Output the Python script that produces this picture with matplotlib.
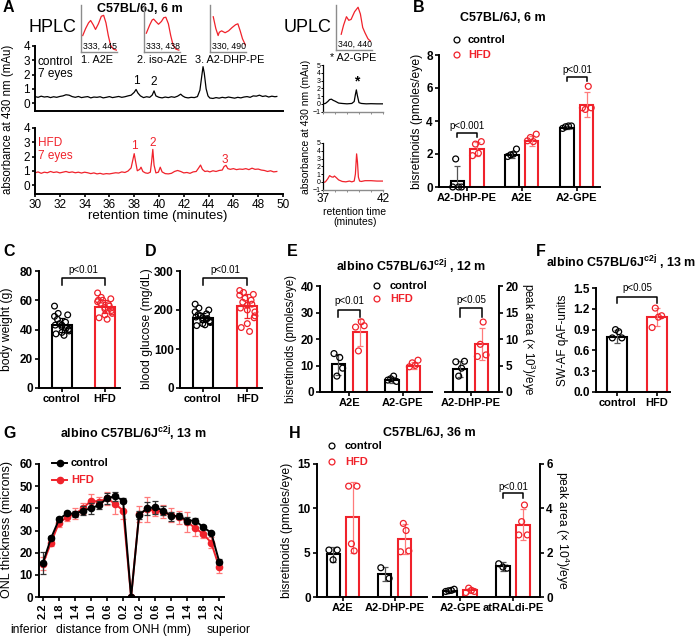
import matplotlib.pyplot as plt
import numpy as np

plt.rcParams['font.family'] = ['Liberation Sans', 'DejaVu Sans']
plt.rcParams['mathtext.fontset'] = 'custom'
plt.rcParams['mathtext.rm'] = 'Liberation Sans'
plt.rcParams['mathtext.bf'] = 'Liberation Sans:bold'
plt.rcParams['mathtext.it'] = 'Liberation Sans:italic'

W, H = 697, 637
RED = '#f0222b'
LRED = '#ff7b7b'
GRAY = '#8c8c8c'

# ---------------- A: chromatograms ----------------
hplc_ctrl_t = [30.0, 30.25, 30.5, 30.75, 31.0, 31.25, 31.5, 31.75, 32.0, 32.25, 32.5, 32.75, 33.0, 33.25,
               33.5, 33.75, 34.0, 34.25, 34.5, 34.75, 35.0, 35.25, 35.5, 35.75, 36.0, 36.25, 36.5, 36.75,
               37.0, 37.25, 37.5, 37.75, 38.0, 38.15, 38.3, 38.5, 38.75, 39.0, 39.25, 39.45, 39.6, 39.75,
               40.0, 40.25, 40.5, 40.75, 41.0, 41.25, 41.5, 41.75, 41.9, 42.1, 42.35, 42.6, 42.85, 43.1,
               43.3, 43.45, 43.55, 43.65, 43.8, 43.95, 44.1, 44.35, 44.6, 44.85, 45.1, 45.35, 45.6, 45.85,
               46.1, 46.35, 46.6, 46.85, 47.1, 47.35, 47.6, 47.85, 48.1, 48.35, 48.6, 48.85, 49.1, 49.35, 49.5]
hplc_ctrl_v = [0.45, 0.40, 0.48, 0.42, 0.45, 0.38, 0.44, 0.40, 0.46, 0.50, 0.58, 0.55, 0.45, 0.40,
               0.46, 0.38, 0.42, 0.45, 0.36, 0.42, 0.40, 0.44, 0.36, 0.40, 0.45, 0.38, 0.42, 0.46,
               0.40, 0.44, 0.50, 0.55, 0.75, 0.95, 0.70, 0.50, 0.38, 0.44, 0.40, 0.55, 0.85, 0.50,
               0.40, 0.36, 0.42, 0.38, 0.44, 0.40, 0.48, 0.62, 0.50, 0.40, 0.36, 0.40, 0.38, 0.45,
               0.90, 1.90, 2.55, 2.10, 1.00, 0.50, 0.35, 0.32, 0.38, 0.34, 0.40, 0.36, 0.42, 0.38,
               0.34, 0.40, 0.36, 0.42, 0.45, 0.40, 0.50, 0.48, 0.55, 0.46, 0.50, 0.42, 0.48, 0.44, 0.46]
hplc_hfd_t = [30.0, 30.25, 30.5, 30.75, 31.0, 31.25, 31.5, 31.75, 32.0, 32.25, 32.5, 32.75, 33.0, 33.25,
              33.5, 33.75, 34.0, 34.25, 34.5, 34.75, 35.0, 35.25, 35.5, 35.75, 36.0, 36.25, 36.5, 36.75,
              37.0, 37.25, 37.5, 37.75, 37.9, 38.0, 38.1, 38.25, 38.45, 38.55, 38.7, 38.9, 39.1, 39.3,
              39.4, 39.5, 39.6, 39.75, 39.95, 40.1, 40.25, 40.5, 40.75, 41.0, 41.25, 41.5, 41.75, 42.0,
              42.25, 42.5, 42.75, 43.0, 43.2, 43.35, 43.5, 43.7, 43.9, 44.1, 44.35, 44.6, 44.85, 45.1,
              45.25, 45.4, 45.55, 45.75, 46.0, 46.25, 46.5, 46.75, 47.0, 47.25, 47.5, 47.75, 48.0, 48.25,
              48.5, 48.75, 49.0, 49.25, 49.5]
hplc_hfd_v = [0.85, 0.92, 0.82, 0.90, 0.86, 0.95, 0.88, 0.92, 0.85, 0.90, 0.95, 0.88, 0.92, 0.86,
              0.90, 0.84, 0.90, 0.86, 0.80, 0.85, 0.78, 0.82, 0.76, 0.80, 0.78, 0.82, 0.86, 0.84,
              0.92, 0.88, 0.98, 1.20, 1.80, 2.20, 1.70, 1.00, 1.10, 1.25, 0.95, 0.85, 0.82, 0.90,
              1.60, 2.50, 1.40, 0.85, 0.90, 1.25, 0.92, 0.80, 0.78, 0.82, 0.95, 1.02, 0.95, 0.85,
              0.88, 0.82, 0.92, 0.95, 1.20, 1.40, 1.10, 0.95, 0.98, 0.92, 1.00, 0.95, 1.02, 1.05,
              1.30, 1.38, 1.15, 1.10, 1.15, 1.08, 1.12, 1.10, 1.15, 1.08, 1.18, 1.10, 1.12, 1.05,
              1.02, 0.95, 1.00, 0.92, 0.95]

uplc_ctrl_t = [37.0, 37.2, 37.4, 37.55, 37.7, 37.85, 38.0, 38.3, 38.6, 39.0, 39.4, 39.6, 39.7, 39.78,
               39.86, 40.0, 40.2, 40.6, 41.0, 41.5, 42.0]
uplc_ctrl_v = [0.0, 0.05, 0.3, 0.55, 0.6, 0.45, 0.35, 0.1, 0.05, 0.0, 0.05, 0.3, 1.2, 1.8,
               1.1, 0.15, 0.05, 0.0, 0.02, 0.0, 0.0]
uplc_hfd_t = [37.0, 37.2, 37.4, 37.55, 37.7, 37.85, 37.95, 38.1, 38.3, 38.6, 38.9, 39.2, 39.4, 39.6,
              39.7, 39.8, 39.87, 39.95, 40.05, 40.2, 40.5, 41.0, 41.5, 42.0]
uplc_hfd_v = [-0.1, 0.0, 0.4, 0.8, 0.65, 0.6, 0.75, 0.55, 0.25, 0.05, 0.0, 0.1, 0.0, 0.1,
              1.0, 3.6, 2.6, 0.6, 0.1, 0.05, 0.15, 0.15, 0.1, 0.1]

spec_a2e_wl = [265, 290, 315, 333, 355, 375, 400, 425, 445, 465, 485, 505, 530, 555]
spec_a2e = [0.35, 0.5, 0.62, 0.67, 0.58, 0.48, 0.6, 0.76, 0.78, 0.62, 0.35, 0.14, 0.06, 0.04]
spec_iso_wl = [270, 300, 320, 333, 355, 375, 400, 420, 438, 460, 480, 500, 525, 550]
spec_iso = [0.4, 0.58, 0.68, 0.7, 0.64, 0.59, 0.65, 0.73, 0.74, 0.6, 0.35, 0.15, 0.06, 0.04]
spec_dhp_wl = [278, 300, 320, 330, 350, 380, 410, 440, 470, 490, 510, 530, 555]
spec_dhp = [0.75, 0.5, 0.35, 0.42, 0.45, 0.41, 0.45, 0.52, 0.58, 0.6, 0.45, 0.28, 0.15]
spec_gpe_wl = [295, 315, 340, 360, 380, 410, 440, 460, 480, 500, 525, 545]
spec_gpe = [0.35, 0.55, 0.74, 0.66, 0.68, 0.85, 0.95, 0.8, 0.5, 0.38, 0.25, 0.2]

# ---------------- B ----------------
b_cats = ['A2-DHP-PE', 'A2E', 'A2-GPE']
b_ctrl_mean = [0.35, 1.95, 3.6]
b_ctrl_sd = [0.95, 0.2, 0.08]
b_hfd_mean = [2.3, 2.8, 5.0]
b_hfd_sd = [0.45, 0.3, 0.75]
b_ctrl_pts = [[0, 1.7, 0, 0], [1.85, 1.95, 2.0, 2.3], [3.55, 3.65, 3.7, 3.7]]
b_hfd_pts = [[1.9, 2.6, 2.05, 2.75], [2.8, 3.0, 2.75, 3.2], [4.8, 4.7, 6.1, 4.8]]

# ---------------- C / D ----------------
cd_cats = ['control', 'HFD']
c_mean = [43, 55.5]
c_sd = [5, 4.5]
c_ctrl_pts = [43, 56, 40, 51, 45, 37, 50, 42, 44, 36, 49, 39, 47, 41, 38, 43, 40]
c_hfd_pts = [55, 65, 52, 62, 57, 48, 61, 54, 60, 47, 59, 51, 58, 56, 50, 60, 53]
d_mean = [180, 210]
d_sd = [12, 30]
d_ctrl_pts = [180, 215, 168, 205, 190, 160, 200, 175, 185, 162, 195, 170, 188, 178, 165, 182, 172]
d_hfd_pts = [212, 250, 195, 245, 225, 155, 240, 200, 230, 145, 238, 185, 220, 215, 165, 205, 180]

# ---------------- E ----------------
e_cats_left = ['A2E', 'A2-GPE']
e_ctrl_mean = [10.5, 4.5]
e_ctrl_sd = [4.0, 1.2]
e_hfd_mean = [22.5, 10.0]
e_hfd_sd = [5.0, 1.5]
e_ctrl_pts = [[14.5, 6, 13, 9], [4.5, 5, 6, 4]]
e_hfd_pts = [[24.5, 15.5, 26.5, 25], [9.5, 11, 10, 12]]
e_cats_right = ['A2-DHP-PE']
e_r_ctrl_mean = [4.3]
e_r_ctrl_sd = [1.5]
e_r_hfd_mean = [9.0]
e_r_hfd_sd = [3.0]
e_r_ctrl_pts = [[5.7, 3.0, 4.5, 5.8]]
e_r_hfd_pts = [[6.7, 9.0, 13.2, 7.0]]

# ---------------- F ----------------
f_mean = [0.8, 1.08]
f_sd = [0.09, 0.13]
f_ctrl_pts = [0.78, 0.9, 0.87, 0.78]
f_hfd_pts = [0.93, 1.21, 1.08, 1.1]

# ---------------- G ----------------
g_dist = [-2.2, -2.0, -1.8, -1.6, -1.4, -1.2, -1.0, -0.8, -0.6, -0.4, -0.2, 0.0,
          0.2, 0.4, 0.6, 0.8, 1.0, 1.2, 1.4, 1.6, 1.8, 2.0, 2.2]
g_ctrl = [15.5, 26.5, 35, 37.8, 37.5, 39, 40, 41.5, 44.5, 45.5, 43.5, 0,
          37, 40, 40.5, 39, 36.5, 36.5, 34.5, 34.5, 31.5, 29, 16]
g_ctrl_sd = [5, 1, 1, 1, 1.5, 2, 2.5, 2, 2.5, 2, 1, 0,
             2, 3, 3, 2, 2, 1.5, 1.5, 1, 1, 0.5, 1]
g_hfd = [15, 24.5, 33.5, 36, 37.5, 40, 43.5, 43, 44.5, 42, 39, 0,
         37.5, 39.5, 39, 38.5, 37, 36, 34, 31, 28.5, 24.5, 13.5]
g_hfd_sd = [3, 1.5, 2, 1.5, 2.5, 2.5, 3, 2, 3, 4.5, 4, 0,
            3.5, 5.5, 2.5, 3, 3, 3, 4.5, 3.5, 2, 2.5, 2.5]
g_ticks = [-2.2, -1.8, -1.4, -1.0, -0.6, -0.2, 0.2, 0.6, 1.0, 1.4, 1.8, 2.2]

# ---------------- H ----------------
h_cats_left = ['A2E', 'A2-DHP-PE']
h_ctrl_mean = [4.8, 2.6]
h_ctrl_sd = [0.8, 0.8]
h_hfd_mean = [9.0, 6.5]
h_hfd_sd = [4.0, 1.7]
h_ctrl_pts = [[5.3, 4.2, 5.3], [3.3, 2.1]]
h_hfd_pts = [[12.5, 6.0, 5.2, 12.5], [5.1, 8.3, 7.5, 5.2]]
h_cats_right = ['A2-GPE', 'atRALdi-PE']
h_r_ctrl_mean = [0.28, 1.38]
h_r_ctrl_sd = [0.05, 0.2]
h_r_hfd_mean = [0.3, 3.25]
h_r_hfd_sd = [0.1, 0.7]
h_r_ctrl_pts = [[0.25, 0.28, 0.3, 0.35], [1.5, 1.35, 1.3]]
h_r_hfd_pts = [[0.2, 0.4, 0.3, 0.25], [2.8, 3.4, 4.15, 2.8]]

TITLE = 9
NUM = 8.5
CAT = 8


def rect(x0, y0, x1, y1):
    return [x0 / W, 1 - y1 / H, (x1 - x0) / W, (y1 - y0) / H]


def style(ax, left=True, right=False, fs=NUM, bold=True):
    ax.spines['top'].set_visible(False)
    ax.spines['right'].set_visible(right)
    ax.spines['left'].set_visible(left)
    for s in ax.spines.values():
        s.set_linewidth(1.4)
    ax.tick_params(width=1.2, length=3, labelsize=fs, pad=1.5)
    if bold:
        ax.tick_params(axis='x', labelsize=CAT)
    if right:
        ax.yaxis.tick_right()
    if not left and not right:
        ax.tick_params(axis='y', left=False, labelleft=False)
    if bold:
        plt.setp(ax.get_xticklabels() + ax.get_yticklabels(), fontweight='bold')
    ax.set_facecolor('none')


def spread(n, big=False):
    if big:
        pat = [0, -1, 1, -0.5, 0.5, -0.8, 0.8, 0, -0.3, 0.3, -1, 1, -0.6, 0.6, 0, -0.9, 0.9]
        return np.array(pat[:n])
    return np.linspace(-1, 1, n)


def bars(ax, x, mean, sd, pts, color, ecolor, w, sp, big=False, s=18):
    ax.bar(x, mean, w, color='white', edgecolor=color, linewidth=1.5, zorder=2)
    ax.errorbar(x, mean, yerr=sd, fmt='none', ecolor=ecolor, elinewidth=0.9,
                capsize=2.3, capthick=0.9, zorder=3)
    ax.scatter(x + sp * spread(len(pts), big), pts, s=s, facecolors='none',
               edgecolors=color, linewidths=0.9, zorder=4, clip_on=False)


def grouped(ax, cats, cm, csd, cp, hm, hsd, hp, off, w, sp):
    for i in range(len(cats)):
        bars(ax, i - off, cm[i], csd[i], cp[i], 'black', '#555555', w, sp)
        bars(ax, i + off, hm[i], hsd[i], hp[i], RED, LRED, w, sp)
    ax.set_xticks(range(len(cats)))
    ax.set_xticklabels(cats)


def bracket(ax, x1, x2, y, d, txt, ty):
    ax.plot([x1, x1, x2, x2], [y - d, y, y, y - d], color='black', lw=1.1, clip_on=False)
    ax.text((x1 + x2) / 2, ty, txt, ha='center', va='center', fontsize=7)


fig = plt.figure(figsize=(W / 100, H / 100), dpi=100)
ov = fig.add_axes([0, 0, 1, 1])
ov.set_xlim(0, W)
ov.set_ylim(H, 0)
ov.axis('off')


def ft(x, y, s, **kw):
    kw.setdefault('ha', 'center')
    kw.setdefault('va', 'center')
    ov.text(x, y, s, **kw)


# ---------- panel A ----------
ax = fig.add_axes(rect(35, 46, 283, 111))
ax.plot(hplc_ctrl_t, hplc_ctrl_v, color='black', lw=0.9)
ax.set_xlim(30, 50)
ax.set_ylim(-0.56, 4)
ax.set_yticks([0, 1, 2, 3, 4])
style(ax, fs=8.5, bold=False)
ax.tick_params(axis='x', bottom=False, labelbottom=False)
ax.tick_params(axis='y', length=2)
ax.text(38.2, 1.55, '1', ha='center', va='center', fontsize=8.5)
ax.text(39.6, 1.45, '2', ha='center', va='center', fontsize=8.5)

ax = fig.add_axes(rect(35, 128, 283, 194))
ax.plot(hplc_hfd_t, hplc_hfd_v, color=RED, lw=0.9)
ax.set_xlim(30, 50)
ax.set_ylim(-0.63, 4)
ax.set_yticks([0, 1, 2, 3, 4])
ax.set_xticks(range(30, 51, 2))
style(ax, fs=8.5, bold=False)
ax.tick_params(length=2)
ax.text(38.0, 2.75, '1', ha='center', va='center', fontsize=8.5, color=RED)
ax.text(39.5, 2.95, '2', ha='center', va='center', fontsize=8.5, color=RED)
ax.text(45.3, 1.75, '3', ha='center', va='center', fontsize=8.5, color=RED)

for lo, tr, col, last in [((323, 65, 383, 112), (uplc_ctrl_t, uplc_ctrl_v), 'black', False),
                          ((323, 143, 383, 190), (uplc_hfd_t, uplc_hfd_v), RED, True)]:
    ax = fig.add_axes(rect(*lo))
    ax.plot(tr[0], tr[1], color=col, lw=0.9)
    ax.set_xlim(37, 42)
    ax.set_ylim(-1.05, 5)
    ax.set_yticks([-1, 0, 1, 2, 3, 4, 5])
    ax.set_xticks([37, 38, 39, 40, 41, 42])
    style(ax, fs=5, bold=False)
    ax.spines['left'].set_linewidth(0.9)
    ax.spines['bottom'].set_linewidth(1.0)
    ax.spines['bottom'].set_color(GRAY)
    ax.tick_params(axis='y', length=1.5, width=0.7, pad=0.3)
    ax.tick_params(axis='x', length=1.5, width=0.7, color=GRAY)
    if last:
        ax.set_xticklabels(['37', '', '', '', '', '42'], fontsize=8.5)
        ax.tick_params(axis='x', pad=1)
    else:
        ax.tick_params(axis='x', labelbottom=False)
        ax.text(39.8, 2.9, '*', ha='center', va='center', fontsize=10, fontweight='bold')

for box, wl, sv, num, name, nx in [((81, 5, 117, 52), spec_a2e_wl, spec_a2e, '333, 445', '1. A2E', 97),
                                   ((144, 5, 180, 52), spec_iso_wl, spec_iso, '333, 438', '2. iso-A2E', 162),
                                   ((210, 5, 246, 52), spec_dhp_wl, spec_dhp, '330, 490', '3. A2-DHP-PE', 230),
                                   ((336, 5, 372, 50), spec_gpe_wl, spec_gpe, '340, 440', '* A2-GPE', 353)]:
    ia = fig.add_axes(rect(*box))
    ia.plot(wl, sv, color=RED, lw=0.9)
    ia.set_xlim(250, 560)
    ia.set_ylim(0, 1)
    for k in ['top', 'right']:
        ia.spines[k].set_visible(False)
    for k in ['left', 'bottom']:
        ia.spines[k].set_color(GRAY)
        ia.spines[k].set_linewidth(1.0)
    ia.set_xticks([])
    ia.set_yticks([])
    ia.set_facecolor('none')
    ia.text(0.05, 0.03, num, transform=ia.transAxes, fontsize=6.3, ha='left', va='bottom')
    ft(nx, box[3] + 8, name, fontsize=7.8)

ft(3, 8, 'A', fontsize=11.5, fontweight='bold', ha='left')
ft(140, 9, 'C57BL/6J, 6 m', fontsize=TITLE, fontweight='bold')
ft(52, 27, 'HPLC', fontsize=13)
ft(308, 28, 'UPLC', fontsize=13)
ft(38, 62, 'control', fontsize=8.5, ha='left')
ft(38, 74, '7 eyes', fontsize=8.5, ha='left')
ft(38, 143, 'HFD', fontsize=8.5, ha='left', color=RED)
ft(38, 156, '7 eyes', fontsize=8.5, ha='left', color=RED)
ft(8, 119, 'absorbance at 430 nm (mAu)', fontsize=8.3, rotation=90)
ft(306, 127, 'absorbance at 430 nm (mAu)', fontsize=7.5, rotation=90)
ft(158, 216, 'retention time (minutes)', fontsize=9.5)
ft(355, 212, 'retention time', fontsize=7.5)
ft(355, 222, '(minutes)', fontsize=7.5)

# ---------- panel B ----------
ax = fig.add_axes(rect(439, 55, 600, 187))
grouped(ax, b_cats, b_ctrl_mean, b_ctrl_sd, b_ctrl_pts, b_hfd_mean, b_hfd_sd, b_hfd_pts, 0.18, 0.24, 0.08)
ax.set_xlim(-0.51, 2.42)
ax.set_ylim(0, 8)
ax.set_yticks([0, 2, 4, 6, 8])
style(ax)
bracket(ax, -0.18, 0.18, 3.25, 0.2, 'p<0.001', 3.7)
bracket(ax, 1.82, 2.18, 6.65, 0.2, 'p<0.01', 7.1)
ft(413, 8, 'B', fontsize=11.5, fontweight='bold', ha='left')
ft(503, 18, 'C57BL/6J, 6 m', fontsize=TITLE, fontweight='bold')
ov.scatter([457, 457], [40, 55], s=18, facecolors='none', edgecolors=['black', RED], linewidths=0.9)
ft(468, 40, 'control', fontsize=8, fontweight='bold', ha='left')
ft(468, 55, 'HFD', fontsize=8, fontweight='bold', ha='left', color=RED)
ft(417, 121, 'bisretinoids (pmoles/eye)', fontsize=8.7, rotation=90)

# ---------- panel C ----------
ax = fig.add_axes(rect(39, 271, 120, 388))
bars(ax, 0, c_mean[0], c_sd[0], c_ctrl_pts, 'black', 'black', 0.47, 0.17, big=True, s=17)
bars(ax, 1, c_mean[1], c_sd[1], c_hfd_pts, RED, RED, 0.47, 0.17, big=True, s=17)
ax.set_xticks([0, 1])
ax.set_xticklabels(cd_cats)
ax.set_xlim(-0.53, 1.35)
ax.set_ylim(0, 80)
ax.set_yticks([0, 20, 40, 60, 80])
style(ax)
bracket(ax, 0, 1, 75.2, 4.8, 'p<0.01', 80.5)
ft(3, 252, 'C', fontsize=11.5, fontweight='bold', ha='left')
ft(7, 329, 'body weight (g)', fontsize=8.7, rotation=90)

# ---------- panel D ----------
ax = fig.add_axes(rect(180, 271, 262, 388))
bars(ax, 0, d_mean[0], d_sd[0], d_ctrl_pts, 'black', 'black', 0.45, 0.17, big=True, s=17)
bars(ax, 1, d_mean[1], d_sd[1], d_hfd_pts, RED, RED, 0.45, 0.17, big=True, s=17)
ax.set_xticks([0, 1])
ax.set_xticklabels(cd_cats)
ax.set_xlim(-0.51, 1.33)
ax.set_ylim(0, 300)
ax.set_yticks([0, 100, 200, 300])
style(ax)
bracket(ax, 0, 1, 282, 18, 'p<0.01', 302)
ft(145, 252, 'D', fontsize=11.5, fontweight='bold', ha='left')
ft(147, 329, 'blood glucose (mg/dL)', fontsize=8.7, rotation=90)

# ---------- panel E ----------
ax = fig.add_axes(rect(320, 286, 432, 392))
grouped(ax, e_cats_left, e_ctrl_mean, e_ctrl_sd, e_ctrl_pts, e_hfd_mean, e_hfd_sd, e_hfd_pts, 0.2, 0.25, 0.08)
ax.set_xlim(-0.54, 1.54)
ax.set_ylim(0, 40)
ax.set_yticks([0, 10, 20, 30, 40])
style(ax)
bracket(ax, -0.2, 0.2, 31, 2.8, 'p<0.01', 34.5)
ax = fig.add_axes(rect(445, 286, 499, 392))
grouped(ax, e_cats_right, e_r_ctrl_mean, e_r_ctrl_sd, e_r_ctrl_pts, e_r_hfd_mean, e_r_hfd_sd, e_r_hfd_pts, 0.2, 0.25, 0.08)
ax.set_xlim(-0.48, 0.52)
ax.set_ylim(0, 20)
ax.set_yticks([0, 5, 10, 15, 20])
style(ax, left=False, right=True)
bracket(ax, -0.2, 0.2, 15.8, 1.6, 'p<0.05', 17.4)
ft(287, 252, 'E', fontsize=11.5, fontweight='bold', ha='left')
ft(411, 267, 'albino C57BL/6J$^{\\mathbf{c2j}}$ , 12 m', fontsize=TITLE, fontweight='bold')
ov.scatter([377, 377], [286, 299], s=18, facecolors='none', edgecolors=['black', RED], linewidths=0.9)
ft(390, 286, 'control', fontsize=8, fontweight='bold', ha='left')
ft(390, 299, 'HFD', fontsize=8, fontweight='bold', ha='left', color=RED)
ft(291, 339, 'bisretinoids (pmoles/eye)', fontsize=8.3, rotation=90)
ft(528, 339, 'peak area (× 10$^3$)/eye', fontsize=8.3, rotation=-90)

# ---------- panel F ----------
ax = fig.add_axes(rect(596, 288, 670, 392))
bars(ax, 0, f_mean[0], f_sd[0], f_ctrl_pts, 'black', '#555555', 0.5, 0.12)
bars(ax, 1, f_mean[1], f_sd[1], f_hfd_pts, RED, LRED, 0.5, 0.12)
ax.set_xticks([0, 1])
ax.set_xticklabels(cd_cats)
ax.set_xlim(-0.53, 1.33)
ax.set_ylim(0, 1.5)
ax.set_yticks([0, 0.3, 0.6, 0.9, 1.2, 1.5])
ax.set_yticklabels(['0.0', '0.3', '0.6', '0.9', '1.2', '1.5'])
style(ax)
bracket(ax, 0, 1, 1.37, 0.09, 'p<0.05', 1.5)
ft(536, 252, 'F', fontsize=11.5, fontweight='bold', ha='left')
ft(621, 263, 'albino C57BL/6J$^{\\mathbf{c2j}}$ , 13 m', fontsize=TITLE, fontweight='bold')
ft(563, 340, 'SW-AF qAF-units', fontsize=8.5, rotation=90)

# ---------- panel G ----------
ax = fig.add_axes(rect(39, 464, 224, 597))
ax.errorbar(g_dist, g_hfd, yerr=g_hfd_sd, color=RED, ecolor=LRED, lw=1.4, marker='o', ms=4.5,
            elinewidth=0.9, capsize=2, capthick=0.9, zorder=2)
ax.errorbar(g_dist, g_ctrl, yerr=g_ctrl_sd, color='black', ecolor='#333333', lw=1.4, marker='o', ms=4.5,
            elinewidth=0.9, capsize=2, capthick=0.9, zorder=3)
ax.set_xlim(-2.3, 2.32)
ax.set_ylim(0, 60)
ax.set_yticks(range(0, 61, 10))
ax.set_xticks(g_ticks)
ax.set_xticklabels(['%.1f' % abs(v) for v in g_ticks], rotation=90)
style(ax)
ft(3, 433, 'G', fontsize=11.5, fontweight='bold', ha='left')
ft(133, 434, 'albino C57BL/6J$^{\\mathbf{c2j}}$, 13 m', fontsize=TITLE, fontweight='bold')
ov.plot([52, 67], [463, 463], color='black', lw=1.4)
ov.plot([59.5], [463], 'o', color='black', ms=4.5)
ov.plot([52, 67], [480, 480], color=RED, lw=1.4)
ov.plot([59.5], [480], 'o', color=RED, ms=4.5)
ft(71, 463, 'control', fontsize=8, fontweight='bold', ha='left')
ft(71, 480, 'HFD', fontsize=8, fontweight='bold', ha='left', color=RED)
ft(7, 530, 'ONL thickness (microns)', fontsize=9, rotation=90)
ft(29, 630, 'inferior', fontsize=8.7)
ft(124, 630, 'distance from ONH (mm)', fontsize=8.7)
ft(229, 630, 'superior', fontsize=8.7)

# ---------- panel H ----------
ax = fig.add_axes(rect(317, 464, 427, 597))
grouped(ax, h_cats_left, h_ctrl_mean, h_ctrl_sd, h_ctrl_pts, h_hfd_mean, h_hfd_sd, h_hfd_pts, 0.19, 0.25, 0.08)
ax.set_xlim(-0.5, 1.62)
ax.set_ylim(0, 15)
ax.set_yticks([0, 5, 10, 15])
style(ax)
ax = fig.add_axes(rect(433, 464, 540, 597))
grouped(ax, h_cats_right, h_r_ctrl_mean, h_r_ctrl_sd, h_r_ctrl_pts, h_r_hfd_mean, h_r_hfd_sd, h_r_hfd_pts, 0.19, 0.25, 0.08)
ax.set_xlim(-0.51, 1.51)
ax.set_ylim(0, 6)
ax.set_yticks([0, 2, 4, 6])
style(ax, left=False, right=True)
bracket(ax, 0.81, 1.19, 4.69, 0.22, 'p<0.01', 4.97)
ft(289, 433, 'H', fontsize=11.5, fontweight='bold', ha='left')
ft(429, 433, 'C57BL/6J, 36 m', fontsize=TITLE, fontweight='bold')
ov.scatter([332, 332], [446, 462], s=18, facecolors='none', edgecolors=['black', RED], linewidths=0.9)
ft(345, 446, 'control', fontsize=8, fontweight='bold', ha='left')
ft(345, 462, 'HFD', fontsize=8, fontweight='bold', ha='left', color=RED)
ft(287, 530, 'bisretinoids (pmoles/eye)', fontsize=8.7, rotation=90)
ft(562, 530, 'peak area (× 10$^4$)/eye', fontsize=8.7, rotation=-90)

fig.savefig('out.png', dpi=100)
